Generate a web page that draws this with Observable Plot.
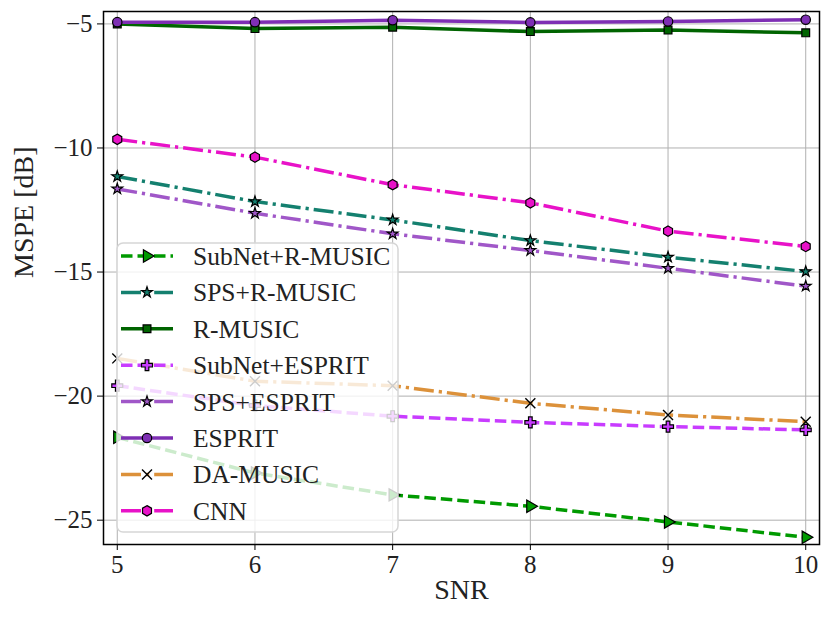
<!DOCTYPE html>
<html><head><meta charset="utf-8">
<script src="https://cdn.jsdelivr.net/npm/d3@7"></script>
<script src="https://cdn.jsdelivr.net/npm/@observablehq/plot@0.6"></script>
<style>body{margin:0;background:#fff;} svg{display:block}</style>
</head><body><div id="chart"></div>
<script>
const snr = [5, 6, 7, 8, 9, 10];
const subnetRMusic = [-21.66, -23.1, -23.98, -24.44, -25.07, -25.69];
const spsRMusic    = [-11.15, -12.16, -12.9, -13.73, -14.4, -14.98];
const rMusic       = [-5.0, -5.19, -5.13, -5.31, -5.25, -5.36];
const subnetEsprit = [-19.58, -20.38, -20.81, -21.06, -21.23, -21.36];
const spsEsprit    = [-11.65, -12.63, -13.46, -14.13, -14.85, -15.57];
const esprit       = [-4.93, -4.93, -4.85, -4.94, -4.9, -4.83];
const daMusic      = [-18.48, -19.4, -19.58, -20.29, -20.76, -21.03];
const cnn          = [-9.65, -10.37, -11.48, -12.21, -13.35, -13.97];
const seriesNames  = ["SubNet+R-MUSIC", "SPS+R-MUSIC", "R-MUSIC", "SubNet+ESPRIT", "SPS+ESPRIT", "ESPRIT", "DA-MUSIC", "CNN"];
const xTicks = [5, 6, 7, 8, 9, 10];
const yTicks = [-25, -20, -15, -10, -5];

const hexagon = {draw(ctx, size) {
  const r = Math.sqrt(size / (3 * Math.sqrt(3) / 2));
  for (let i = 0; i < 6; i++) {
    const a = Math.PI / 3 * i - Math.PI / 2;
    const x = r * Math.cos(a), y = r * Math.sin(a);
    i ? ctx.lineTo(x, y) : ctx.moveTo(x, y);
  }
  ctx.closePath();
}};

const DASH = "11.5,5", DASHDOT = "20,5,3.2,5";
const styles = [
  {values: subnetRMusic, color: "#009a00", dash: DASH,    symbol: "triangle", rotate: 90, r: 4.6},
  {values: spsRMusic,    color: "#14806f", dash: DASHDOT, symbol: "star", r: 3.4},
  {values: rMusic,       color: "#006400", dash: null,    symbol: "square", r: 4.4},
  {values: subnetEsprit, color: "#c83cff", dash: DASH,    symbol: "cross", r: 4.6},
  {values: spsEsprit,    color: "#a057c8", dash: DASHDOT, symbol: "star", r: 3.4},
  {values: esprit,       color: "#7e2fb4", dash: null,    symbol: "circle", r: 4.7},
  {values: daMusic,      color: "#dc913a", dash: DASHDOT, symbol: "times", r: 4.6, strokeOnly: true},
  {values: cnn,          color: "#e812c8", dash: DASHDOT, symbol: hexagon, r: 4.7}
];
const table = styles.map((s, i) => snr.map((x, j) => ({x, y: s.values[j], name: seriesNames[i]})));

const marks = [
  Plot.gridX(xTicks, {stroke: "#b0b0b0", strokeOpacity: 1, strokeWidth: 1}),
  Plot.gridY(yTicks, {stroke: "#b0b0b0", strokeOpacity: 1, strokeWidth: 1}),
];
styles.forEach((s, i) => {
  marks.push(Plot.line(table[i], {x: "x", y: "y", stroke: s.color, strokeWidth: 3.5,
    strokeDasharray: s.dash || undefined, strokeLinecap: "butt"}));
  if (s.strokeOnly) {
    marks.push(Plot.dot(table[i], {x: "x", y: "y", symbol: s.symbol, r: s.r, stroke: "#000", strokeWidth: 1.4, fill: "none"}));
  } else {
    marks.push(Plot.dot(table[i], {x: "x", y: "y", symbol: s.symbol, r: s.r, fill: s.color, stroke: "#000", strokeWidth: 1.2, rotate: s.rotate || 0}));
  }
});
marks.push(
  Plot.axisX(xTicks, {tickSize: 6, tickPadding: 5, fontSize: 25, label: null, stroke: "#000", tickFormat: d => String(d)}),
  Plot.axisY(yTicks, {tickSize: 6, tickPadding: 5, fontSize: 25, label: null, stroke: "#000",
    tickFormat: d => d < 0 ? "\u2212" + Math.abs(d) : String(d)}),
  Plot.frame({stroke: "#000", strokeWidth: 1.5}),
  Plot.text(["SNR"], {frameAnchor: "bottom", dy: 54, fontSize: 28, fill: "#222"}),
  Plot.text(["MSPE [dB]"], {frameAnchor: "left", dx: -79, rotate: -90, fontSize: 28, fill: "#222"})
);

const plot = Plot.plot({
  width: 831, height: 624,
  marginLeft: 103, marginRight: 12, marginTop: 11, marginBottom: 80,
  style: {fontFamily: "'Liberation Serif', 'DejaVu Serif', serif", color: "#222", background: "#fff", overflow: "visible"},
  x: {domain: [4.9, 10.1]},
  y: {domain: [-25.98, -4.5]},
  marks
});

// legend
const svg = d3.select(plot);
const lg = svg.append("g").attr("text-anchor", "start");
const bx = 117, by = 243, bw = 281, bh = 289, rowY0 = 256, rowStep = 36.4;
lg.append("rect").attr("x", bx).attr("y", by).attr("width", bw).attr("height", bh)
  .attr("rx", 6).attr("fill", "#fff").attr("fill-opacity", 0.8)
  .attr("stroke", "#d6d6d6").attr("stroke-width", 1.5);
styles.forEach((s, i) => {
  const yy = rowY0 + i * rowStep;
  lg.append("line").attr("x1", 121).attr("x2", 173).attr("y1", yy).attr("y2", yy)
    .attr("stroke", s.color).attr("stroke-width", 3.5)
    .attr("stroke-dasharray", s.dash || null);
  const type = typeof s.symbol === "string"
    ? {triangle: d3.symbolTriangle, star: d3.symbolStar, square: d3.symbolSquare, cross: d3.symbolCross,
       circle: d3.symbolCircle, times: d3.symbolTimes}[s.symbol]
    : s.symbol;
  const path = d3.symbol(type, Math.PI * s.r * s.r)();
  const p = lg.append("path").attr("d", path)
    .attr("transform", `translate(147,${yy}) rotate(${s.rotate || 0})`);
  if (s.strokeOnly) p.attr("fill", "none").attr("stroke", "#000").attr("stroke-width", 1.4);
  else p.attr("fill", s.color).attr("stroke", "#000").attr("stroke-width", 1.2);
  lg.append("text").attr("x", 193).attr("y", yy).attr("dy", "0.35em").attr("text-anchor", "start")
    .attr("font-size", 25.5).attr("fill", "#222").text(seriesNames[i]);
});
document.getElementById("chart").appendChild(plot);
</script>
</body></html>
